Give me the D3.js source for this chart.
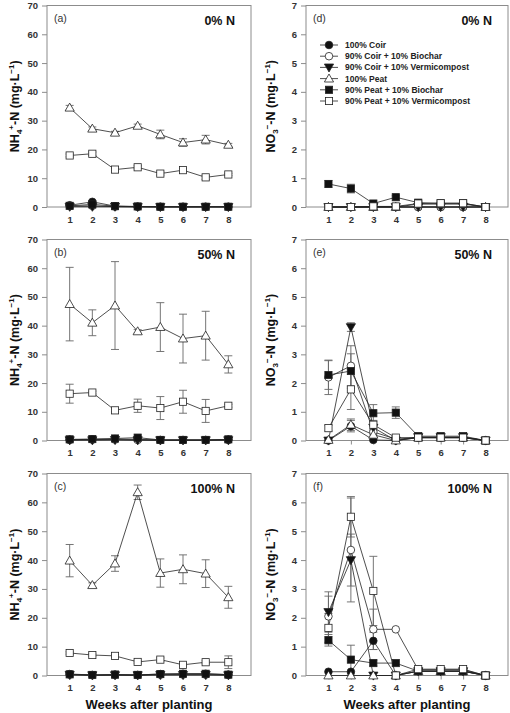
<!DOCTYPE html>
<html><head><meta charset="utf-8">
<script src="https://cdn.jsdelivr.net/npm/d3@7"></script>
<style>body{margin:0;background:#fff}svg{display:block}text{font-family:"Liberation Sans",Arial,sans-serif}</style>
</head><body><svg id="c" width="510" height="713"></svg>
<script>
const weeks = [1,2,3,4,5,6,7,8];
const seriesNames = ["100% Coir","90% Coir + 10% Biochar","90% Coir + 10% Vermicompost","100% Peat","90% Peat + 10% Biochar","90% Peat + 10% Vermicompost"];
const yTicksNH4 = [0,10,20,30,40,50,60,70];
const yTicksNO3 = [0,1,2,3,4,5,6,7];
const panelLetters = ["(a)","(b)","(c)","(d)","(e)","(f)"];
const panelTitles = ["0% N","50% N","100% N","0% N","50% N","100% N"];

// NH4+-N, rows = series in seriesNames order
const nh4_0 = [
  [0.6,1.8,0.3,0.1,0.1,0.1,0.1,0.1],
  [0.3,0.4,0.1,0.1,0.0,0.0,0.0,0.0],
  [0.1,0.1,0.1,0.0,0.0,0.0,0.0,0.0],
  [34.5,27.2,25.8,28.2,25.2,22.4,23.4,21.6],
  [0.4,0.9,0.3,0.2,0.1,0.1,0.1,0.1],
  [17.9,18.5,13.0,13.8,11.6,12.8,10.3,11.3]];
const nh4_0_err = [
  [0.2,0.4,0.1,0,0,0,0,0],[0,0,0,0,0,0,0,0],[0,0,0,0,0,0,0,0],
  [0.8,0.6,0.5,0.6,1.5,1.3,1.5,0.5],[0,0,0,0,0,0,0,0],
  [0.5,0.6,0.4,0.5,0.5,0.6,0.7,0.4]];
const nh4_50 = [
  [0.3,0.4,0.5,0.4,0.2,0.2,0.2,0.3],
  [0.2,0.3,0.3,0.2,0.1,0.1,0.1,0.2],
  [0.1,0.1,0.2,0.1,0.1,0.1,0.1,0.1],
  [47.5,41.0,47.0,38.0,39.5,35.5,36.5,26.5],
  [0.4,0.5,0.7,1.0,0.2,0.2,0.2,0.4],
  [16.3,16.7,10.5,12.1,11.3,13.5,10.3,12.1]];
const nh4_50_err = [
  [0,0,0,0,0,0,0,0],[0,0,0,0,0,0,0,0],[0,0,0,0,0,0,0,0],
  [12.8,4.5,15.3,0.6,8.5,8.5,8.5,3.0],[0,0,0,0.3,0,0,0,0],
  [3.3,0.5,0.5,2.3,4.0,4.0,4.0,0.5]];
const nh4_100 = [
  [0.5,0.2,0.3,0.2,0.5,0.6,0.6,0.3],
  [0.3,0.1,0.2,0.1,0.3,0.3,0.3,0.2],
  [0.2,0.1,0.1,0.1,0.2,0.2,0.2,0.1],
  [39.8,31.3,38.8,63.5,35.5,36.8,35.3,27.1],
  [0.4,0.2,0.3,0.2,0.5,0.6,0.6,0.3],
  [7.8,7.1,6.8,4.7,5.5,3.7,4.6,4.6]];
const nh4_100_err = [
  [0,0,1.2,1.2,0,0,0,0],[0,0,0,0,0,0,0,0],[0,0,0,0,0,0,0,0],
  [5.6,0.8,2.7,2.5,4.9,5.0,4.8,3.8],[0,0,0,0,0,0,0,0],
  [0.4,0.4,0.5,0.4,0.6,0.4,0.5,2.2]];

// NO3--N
const no3_0 = [
  [0.0,0.0,0.0,0.0,0.0,0.0,0.0,0.0],
  [0.0,0.0,0.0,0.0,0.0,0.0,0.0,0.0],
  [0.0,0.0,0.0,0.0,0.0,0.0,0.0,0.0],
  [0.0,0.0,0.0,0.0,0.1,0.1,0.1,0.0],
  [0.80,0.64,0.12,0.34,0.15,0.13,0.13,0.0],
  [0.0,0.0,0.02,0.02,0.12,0.13,0.13,0.0]];
const no3_0_err = [
  [0,0,0,0,0,0,0,0],[0,0,0,0,0,0,0,0],[0,0,0,0,0,0,0,0],[0,0,0,0,0,0,0,0],
  [0.12,0.15,0.03,0.05,0.03,0.03,0.03,0],
  [0,0,0,0,0.03,0.03,0.03,0]];
const no3_50 = [
  [0.0,0.5,0.02,0.0,0.1,0.1,0.1,0.0],
  [2.2,2.6,0.3,0.05,0.1,0.1,0.1,0.0],
  [0.0,3.95,0.45,0.0,0.12,0.12,0.12,0.0],
  [0.02,0.55,0.2,0.0,0.1,0.1,0.1,0.0],
  [2.28,2.42,0.95,0.97,0.15,0.15,0.15,0.0],
  [0.43,1.78,0.55,0.1,0.1,0.1,0.1,0.0]];
const no3_50_err = [
  [0,0.2,0,0,0,0,0,0],
  [0.6,0.7,0.1,0,0,0,0,0],
  [0,0.15,0.1,0,0,0,0,0],
  [0,0.2,0.05,0,0,0,0,0],
  [0.5,0.6,0.3,0.2,0.05,0.05,0.05,0],
  [0.1,0.7,0.15,0.05,0.02,0.02,0.02,0]];
const no3_100 = [
  [0.13,0.13,1.2,0.0,0.15,0.15,0.15,0.0],
  [2.05,4.35,1.6,1.6,0.2,0.2,0.2,0.0],
  [2.2,4.0,0.0,0.0,0.15,0.15,0.15,0.0],
  [0.0,0.0,0.0,0.0,0.15,0.15,0.15,0.0],
  [1.22,0.55,0.43,0.43,0.15,0.15,0.15,0.0],
  [1.65,5.5,2.93,0.0,0.22,0.22,0.22,0.0]];
const no3_100_err = [
  [0,0,0.3,0,0,0,0,0],
  [0.7,1.8,0.7,0,0,0,0,0],
  [0.7,0.9,0,0,0,0,0,0],
  [0,0,0,0,0,0,0,0],
  [0.2,0.5,0.1,0,0,0,0,0],
  [0.5,0.7,1.2,0,0.03,0.03,0.03,0]];

const panels = [
  {data:nh4_0, err:nh4_0_err, ticks:yTicksNH4, col:0, row:0},
  {data:nh4_50, err:nh4_50_err, ticks:yTicksNH4, col:0, row:1},
  {data:nh4_100, err:nh4_100_err, ticks:yTicksNH4, col:0, row:2},
  {data:no3_0, err:no3_0_err, ticks:yTicksNO3, col:1, row:0},
  {data:no3_50, err:no3_50_err, ticks:yTicksNO3, col:1, row:1},
  {data:no3_100, err:no3_100_err, ticks:yTicksNO3, col:1, row:2}];

const svg = d3.select("#c");
const colX = [[47,251],[306,508]];
const rowY = [[5.5,207],[239.5,440.5],[473.5,675.5]];
const AX = "#8c8c8c", TXT = "#333";
// marker style per series: shape, filled
const styles = [["circle",true],["circle",false],["down",true],["up",false],["square",true],["square",false]];

function marker(g, shape, filled, cx, cy){
  let el;
  if(shape==="circle"){
    el = g.append("circle").attr("cx",cx).attr("cy",cy).attr("r",3.8);
  } else if(shape==="square"){
    el = g.append("rect").attr("x",cx-3.6).attr("y",cy-3.6).attr("width",7.2).attr("height",7.2);
  } else if(shape==="up"){
    el = g.append("path").attr("d",`M${cx},${cy-4.6}L${cx+4.6},${cy+3.4}L${cx-4.6},${cy+3.4}Z`);
  } else {
    el = g.append("path").attr("d",`M${cx},${cy+4.6}L${cx+4.6},${cy-3.4}L${cx-4.6},${cy-3.4}Z`);
  }
  el.attr("fill",filled?"#111":"#fff").attr("stroke","#222").attr("stroke-width",0.8);
}

panels.forEach((p,pi)=>{
  const [x0,x1] = colX[p.col], [y0,y1] = rowY[p.row];
  const x = d3.scaleLinear().domain([0,9]).range([x0,x1]);
  const y = d3.scaleLinear().domain([0,p.ticks[p.ticks.length-1]]).range([y1,y0]);
  const g = svg.append("g");
  // axes
  const ya = g.append("g").attr("transform",`translate(${x0},0)`)
    .call(d3.axisLeft(y).tickValues(p.ticks).tickSize(5).tickPadding(4).tickFormat(d3.format("d")));
  const xa = g.append("g").attr("transform",`translate(0,${y1})`)
    .call(d3.axisBottom(x).tickValues(weeks).tickSize(4).tickPadding(5).tickFormat(d3.format("d")));
  [ya,xa].forEach(a=>{
    a.select(".domain").remove();
    a.selectAll("line").attr("stroke",AX);
    a.selectAll("text").attr("fill",TXT).attr("font-size",9.5).attr("font-weight","bold");
  });
  g.append("rect").attr("x",x0).attr("y",y0).attr("width",x1-x0).attr("height",y1-y0)
    .attr("fill","none").attr("stroke",AX).attr("stroke-width",1);
  // error bars
  p.data.forEach((s,si)=>{
    s.forEach((v,i)=>{
      const e = p.err[si][i];
      if(e<=0) return;
      const cx = x(weeks[i]);
      g.append("line").attr("x1",cx).attr("x2",cx).attr("y1",y(v+e)).attr("y2",y(Math.max(0,v-e))).attr("stroke","#666").attr("stroke-width",0.9);
      g.append("line").attr("x1",cx-4).attr("x2",cx+4).attr("y1",y(v+e)).attr("y2",y(v+e)).attr("stroke","#666").attr("stroke-width",0.9);
      if(v-e>0) g.append("line").attr("x1",cx-4).attr("x2",cx+4).attr("y1",y(v-e)).attr("y2",y(v-e)).attr("stroke","#666").attr("stroke-width",0.9);
    });
  });
  // lines + markers
  const line = d3.line().x((d,i)=>x(weeks[i])).y(d=>y(d));
  p.data.forEach((s,si)=>{
    g.append("path").attr("d",line(s)).attr("fill","none").attr("stroke","#222").attr("stroke-width",0.8);
  });
  p.data.forEach((s,si)=>{
    s.forEach((v,i)=>marker(g, styles[si][0], styles[si][1], x(weeks[i]), y(v)));
  });
  // labels
  g.append("text").attr("x",x0+7).attr("y",y0+16).attr("font-size",10.5).attr("fill",TXT).text(panelLetters[pi]);
  g.append("text").attr("x",x1-16).attr("y",y0+19).attr("text-anchor","end").attr("font-size",12.5).attr("font-weight","bold").attr("fill","#111").text(panelTitles[pi]);
  // y title
  const ty = (y0+y1)/2, tx = p.col===0 ? 19 : 275;
  const t = g.append("text").attr("transform",`translate(${tx},${ty}) rotate(-90)`).attr("text-anchor","middle")
    .attr("font-size",12.5).attr("font-weight","bold").attr("fill","#111");
  if(p.col===0){
    t.append("tspan").text("NH");
    t.append("tspan").attr("font-size",8).attr("dy",3).text("4");
    t.append("tspan").attr("font-size",8).attr("dy",-8).text("+");
    t.append("tspan").attr("dy",5).text("-N (mg·L");
  } else {
    t.append("tspan").text("NO");
    t.append("tspan").attr("font-size",8).attr("dy",3).text("3");
    t.append("tspan").attr("font-size",8).attr("dy",-8).text("−");
    t.append("tspan").attr("dy",5).text("-N (mg·L");
  }
  t.append("tspan").attr("font-size",8).attr("dy",-5).text("−1");
  t.append("tspan").attr("dy",5).text(")");
  if(p.row===2){
    g.append("text").attr("x",(x0+x1)/2).attr("y",709).attr("text-anchor","middle").attr("font-size",13).attr("font-weight","bold").attr("fill","#111").text("Weeks after planting");
  }
  // legend in panel (d)
  if(pi===3){
    const lg = g.append("g");
    seriesNames.forEach((n,si)=>{
      const ly = y0 + 39.5 + si*11.2, lx = x0 + 23;
      lg.append("line").attr("x1",lx-9).attr("x2",lx+9).attr("y1",ly).attr("y2",ly).attr("stroke","#222").attr("stroke-width",0.8);
      marker(lg, styles[si][0], styles[si][1], lx, ly);
      lg.append("text").attr("x",lx+16).attr("y",ly+3).attr("font-size",8.5).attr("font-weight","bold").attr("fill","#222").text(n);
    });
  }
});
</script></body></html>
